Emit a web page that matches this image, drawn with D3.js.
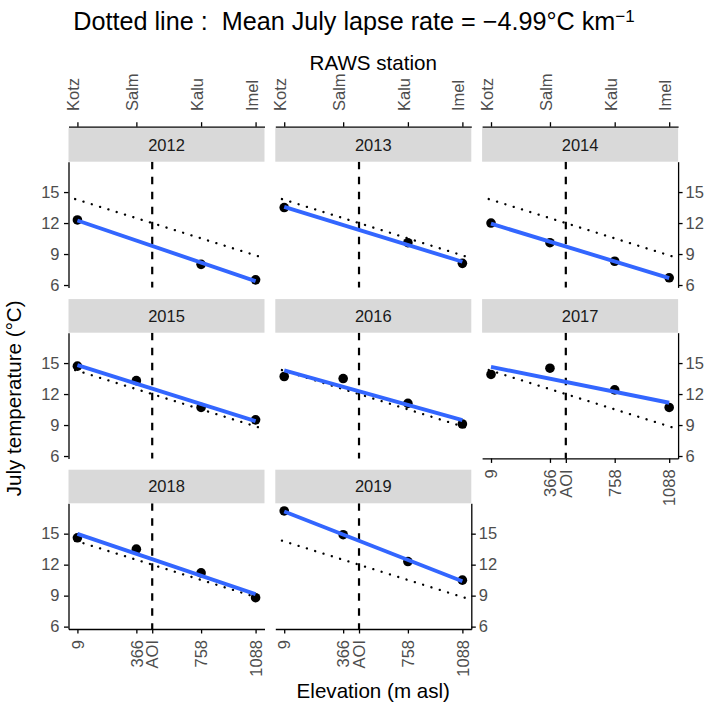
<!DOCTYPE html>
<html>
<head>
<meta charset="utf-8">
<script src="https://cdn.jsdelivr.net/npm/d3@7"></script>
<style>
body { margin: 0; background: #fff; }
text { font-family: "Liberation Sans", Arial, sans-serif; }
</style>
</head>
<body>
<svg id="chart" width="708" height="708"></svg>
<script>
"use strict";

// data
const years = [2012, 2013, 2014, 2015, 2016, 2017, 2018, 2019];
const stations = ["Kotz", "Salm", "Kalu", "Imel"];
const elevations = [9, 366, 758, 1088];
const aoiElevation = 462;
const temps = [
    [12.3, null, 8.0, 6.5],    // 2012
    [13.5, null, 10.1, 8.1],   // 2013
    [12.0, 10.1, 8.3, 6.7],    // 2014
    [14.7, 13.3, 10.7, 9.5],   // 2015
    [13.7, 13.5, 11.1, 9.1],   // 2016
    [13.9, 14.5, 12.4, 10.7],  // 2017
    [14.6, 13.5, 11.2, 8.8],   // 2018
    [17.2, 14.9, 12.3, 10.5]   // 2019
];
const yTicks = [6, 9, 12, 15];
const meanLapse = -4.99;       // degC per km
const meanIntercept = 14.3;    // degC at 0 m
const dottedRange = [-5, 1115];

// layout
const panelW = 196, panelH = 125.7, stripH = 33.6;
const colLeft = [68.5, 275.3, 482.1];
const panelTop = [161.7, 332.7, 503.3];
const tickFont = 16.5, titleFont = 20.6;

const svg = d3.select("#chart");

let x = d3.scaleLinear().domain([-45, 1142]).range([0, panelW]);
let y = d3.scaleLinear().domain([5.77, 17.94]).range([panelH, 0]);

// simple least squares fit, like geom_smooth(method = "lm")
function lmFit(xs, ys) {
    let mx = d3.mean(xs), my = d3.mean(ys);
    let sxy = d3.sum(xs, (v, i) => (v - mx) * (ys[i] - my));
    let sxx = d3.sum(xs, v => (v - mx) * (v - mx));
    let b = sxy / sxx;
    return z => my + b * (z - mx);
}

function styleAxis(g) {
    g.selectAll("path.domain").attr("stroke", "#000").attr("stroke-width", 1.3);
    g.selectAll(".tick line").attr("stroke", "#000").attr("stroke-width", 1.3);
    g.selectAll(".tick text").attr("fill", "#4D4D4D").style("font-size", tickFont + "px")
        .style("font-family", '"Liberation Sans", Arial, sans-serif');
}

years.forEach((yr, k) => {
    let row = Math.floor(k / 3), col = k % 3;
    let px = colLeft[col], py = panelTop[row];
    let g = svg.append("g").attr("transform", `translate(${px},${py})`);

    // strip
    svg.append("rect").attr("x", px).attr("y", py - stripH).attr("width", panelW).attr("height", stripH)
        .attr("fill", "#D9D9D9");
    svg.append("text").attr("x", px + panelW / 2).attr("y", py - stripH / 2).attr("dy", "0.36em")
        .attr("text-anchor", "middle").attr("fill", "#1A1A1A").style("font-size", tickFont + "px").text(yr);

    // mean lapse rate (dotted)
    let meanLine = z => meanIntercept + meanLapse * z / 1000;
    g.append("line")
        .attr("x1", x(dottedRange[0])).attr("y1", y(meanLine(dottedRange[0])))
        .attr("x2", x(dottedRange[1])).attr("y2", y(meanLine(dottedRange[1])))
        .attr("stroke", "#000").attr("stroke-width", 2.3).attr("stroke-linecap", "round")
        .attr("stroke-dasharray", "0.1,8.6");

    // AOI (dashed)
    g.append("line").attr("x1", x(aoiElevation)).attr("x2", x(aoiElevation))
        .attr("y1", 0).attr("y2", panelH)
        .attr("stroke", "#000").attr("stroke-width", 2.2).attr("stroke-dasharray", "7.5,7.5");

    // points
    let pts = elevations.map((e, i) => ({ e: e, t: temps[k][i] })).filter(d => d.t !== null);
    g.selectAll("circle").data(pts).enter().append("circle")
        .attr("cx", d => x(d.e)).attr("cy", d => y(d.t)).attr("r", 4.8).attr("fill", "#000");

    // linear fit
    let fit = lmFit(pts.map(d => d.e), pts.map(d => d.t));
    let ext = d3.extent(pts, d => d.e);
    g.append("line")
        .attr("x1", x(ext[0])).attr("y1", y(fit(ext[0])))
        .attr("x2", x(ext[1])).attr("y2", y(fit(ext[1])))
        .attr("stroke", "#3366FF").attr("stroke-width", 3.9);

    // axes
    if (col === 0) {
        let a = g.append("g").call(d3.axisLeft(y).tickValues(yTicks).tickSize(4.5).tickSizeOuter(0).tickPadding(4.5));
        styleAxis(a);
    }
    if (col === 2 || k === years.length - 1) {
        let a = g.append("g").attr("transform", `translate(${panelW},0)`)
            .call(d3.axisRight(y).tickValues(yTicks).tickSize(4.5).tickSizeOuter(0).tickPadding(3));
        styleAxis(a);
    }
    if (row === 0) {
        let a = svg.append("g").attr("transform", `translate(${px},${py - stripH - 1.4})`)
            .call(d3.axisTop(x).tickValues(elevations).tickFormat((d, i) => stations[i])
                .tickSize(4.5).tickSizeOuter(0));
        styleAxis(a);
        a.selectAll(".tick text").attr("transform", "rotate(-90)")
            .attr("x", 15.7).attr("y", 1.5).attr("dy", "0").attr("text-anchor", "start");
    }
    if (k >= years.length - 3) {
        let ticks = elevations.concat([aoiElevation]);
        let a = g.append("g").attr("transform", `translate(0,${panelH})`)
            .call(d3.axisBottom(x).tickValues(ticks).tickFormat(d => d === aoiElevation ? "AOI" : d)
                .tickSize(4.5).tickSizeOuter(0));
        styleAxis(a);
        a.selectAll(".tick text").attr("transform", "rotate(-90)")
            .attr("x", -11).attr("y", 0).attr("dy", "0.35em").attr("text-anchor", "end");
    }
});

// titles
let title = svg.append("text").attr("x", 354).attr("y", 30).attr("text-anchor", "middle")
    .style("font-size", "25.2px").attr("fill", "#000");
title.append("tspan").text("Dotted line :\u00A0\u00A0Mean July lapse rate = \u22124.99\u00B0C km");
title.append("tspan").attr("dy", "-0.45em").style("font-size", "17px").text("\u22121");

svg.append("text").attr("x", (colLeft[0] + colLeft[2] + panelW) / 2).attr("y", 70)
    .attr("text-anchor", "middle").style("font-size", titleFont + "px").text("RAWS station");

svg.append("text").attr("x", (colLeft[0] + colLeft[2] + panelW) / 2).attr("y", 697.5)
    .attr("text-anchor", "middle").style("font-size", titleFont + "px").text("Elevation (m asl)");

svg.append("text").attr("transform", `translate(21,${(panelTop[0] + panelTop[2] + panelH) / 2 + 3}) rotate(-90)`)
    .attr("text-anchor", "middle").style("font-size", titleFont + "px").text("July temperature (\u00B0C)");
</script>
</body>
</html>
